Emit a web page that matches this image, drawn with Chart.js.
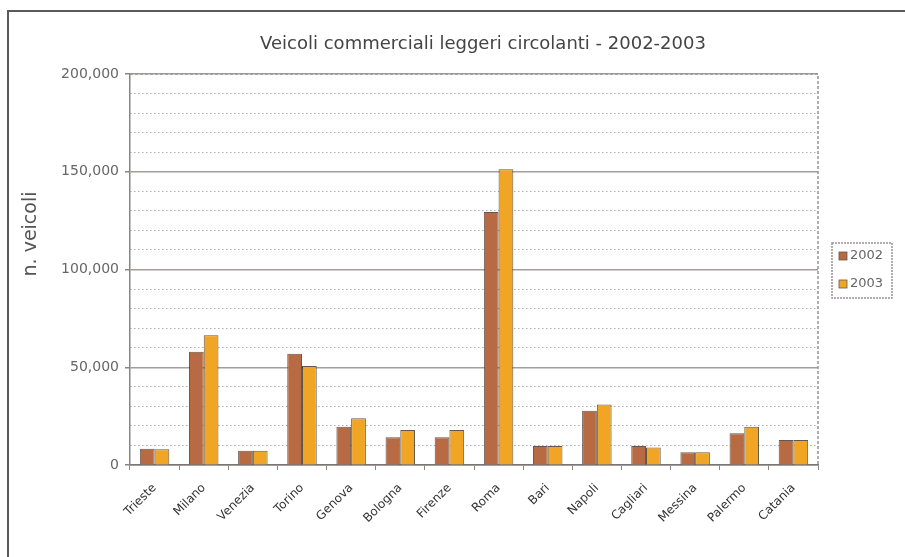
<!DOCTYPE html>
<html>
<head>
<meta charset="utf-8">
<script src="https://cdn.jsdelivr.net/npm/chart.js@4"></script>
<style>
  html, body { margin: 0; padding: 0; background: #fff; }
  #wrap { position: relative; width: 905px; height: 557px; overflow: hidden; }
  #frame { position: absolute; left: 7px; top: 10px; width: 1000px; height: 700px;
           border-top: 2px solid #5a5a5a; border-left: 2px solid #5a5a5a; }
  #chart { position: absolute; left: 0; top: 0; }
</style>
</head>
<body>
<div id="wrap">
  <div id="frame"></div>
  <canvas id="chart" width="905" height="557"></canvas>
</div>
<script>
// città e veicoli commerciali leggeri circolanti
const cities = ["Trieste", "Milano", "Venezia", "Torino", "Genova", "Bologna", "Firenze",
  "Roma", "Bari", "Napoli", "Cagliari", "Messina", "Palermo", "Catania"];
const years = ["2002", "2003"];
const v2002 = [8300, 57900, 7300, 56900, 19600, 14200, 14200, 129400, 9700, 27800, 9700, 6500, 16200, 12800];
const v2003 = [8000, 66400, 7300, 50600, 23900, 17900, 17900, 151300, 9700, 31000, 9000, 6500, 19600, 12800];
const yTicks = [0, 50000, 100000, 150000, 200000];
const colors = ["#b86a42", "#f0a524"];

const FONT = "'DejaVu Sans', Verdana, sans-serif";
const TITLE = "Veicoli commerciali leggeri circolanti - 2002-2003";

// bordo tratteggiato in alto e a destra dell'area del grafico
const plotFrame = {
  id: "plotFrame",
  afterDraw(chart) {
    const { ctx, chartArea: a } = chart;
    ctx.save();
    ctx.strokeStyle = "#9a9494";
    ctx.lineWidth = 1.5;
    ctx.setLineDash([3, 2]);
    ctx.beginPath();
    ctx.moveTo(a.left, a.top);
    ctx.lineTo(a.right, a.top);
    ctx.lineTo(a.right, a.bottom);
    ctx.stroke();
    ctx.restore();
  }
};

// titolo del grafico e titolo dell'asse y
const titles = {
  id: "titles",
  afterDraw(chart) {
    const { ctx } = chart;
    ctx.save();
    ctx.font = "18px " + FONT;
    ctx.fillStyle = "#444";
    ctx.textAlign = "center";
    ctx.textBaseline = "middle";
    ctx.fillText(TITLE, 483, 44);

    ctx.translate(31, 234);
    ctx.rotate(-Math.PI / 2);
    ctx.font = "19px " + FONT;
    ctx.fillStyle = "#555";
    ctx.fillText("n. veicoli", 0, 0);
    ctx.restore();
  }
};

// legenda in un riquadro a destra
const boxLegend = {
  id: "boxLegend",
  afterDraw(chart) {
    const { ctx } = chart;
    const x = 832, y = 243, w = 60, h = 55;
    ctx.save();
    ctx.strokeStyle = "#9a9494";
    ctx.lineWidth = 1.5;
    ctx.setLineDash([2, 1]);
    ctx.strokeRect(x, y, w, h);
    ctx.setLineDash([]);
    ctx.font = "13px " + FONT;
    ctx.textBaseline = "middle";
    chart.data.datasets.forEach((ds, i) => {
      const cy = y + 13 + i * 28;
      ctx.fillStyle = ds.backgroundColor;
      ctx.fillRect(x + 7, cy - 4, 8, 8);
      ctx.strokeStyle = "#6a5a4a";
      ctx.lineWidth = 0.8;
      ctx.strokeRect(x + 7, cy - 4, 8, 8);
      ctx.fillStyle = "#666";
      ctx.fillText(ds.label, x + 18, cy);
    });
    ctx.restore();
  }
};

new Chart(document.getElementById("chart"), {
  type: "bar",
  data: {
    labels: cities,
    datasets: [
      { label: years[0], data: v2002, backgroundColor: colors[0] },
      { label: years[1], data: v2003, backgroundColor: colors[1] }
    ]
  },
  options: {
    responsive: false,
    animation: false,
    layout: { padding: { left: 0, right: 87, top: 74, bottom: 0 } },
    datasets: {
      bar: {
        categoryPercentage: 0.6,
        barPercentage: 1.0,
        borderWidth: 1,
        borderColor: "rgba(60,45,35,0.8)"
      }
    },
    plugins: {
      legend: { display: false },
      tooltip: { enabled: false },
      title: { display: false }
    },
    scales: {
      x: {
        offset: true,
        grid: {
          offset: true,
          drawOnChartArea: false,
          drawTicks: true,
          tickLength: 5,
          tickColor: "#8a8484"
        },
        border: { color: "#7a7474", width: 1.5 },
        ticks: {
          autoSkip: false,
          maxRotation: 45,
          minRotation: 45,
          padding: 11,
          color: "#333",
          font: { family: FONT, size: 12 }
        },
        afterFit(scale) { scale.height = 92; }
      },
      yMinor: {
        position: "left",
        min: yTicks[0],
        max: yTicks[yTicks.length - 1],
        ticks: { display: false, stepSize: 10000 },
        grid: {
          drawTicks: false,
          color: (c) => (c.tick && c.tick.value % 50000 === 0) ? "rgba(0,0,0,0)" : "#aaaabb",
          lineWidth: 1
        },
        border: { display: false, dash: [1.5, 2.5] },
        afterFit(scale) { scale.width = 0; }
      },
      y: {
        position: "left",
        min: yTicks[0],
        max: yTicks[yTicks.length - 1],
        afterBuildTicks(scale) { scale.ticks = yTicks.map((v) => ({ value: v })); },
        ticks: {
          color: "#666",
          padding: 6,
          font: { family: FONT, size: 14 },
          callback: (v) => v.toLocaleString("en-US")
        },
        grid: {
          color: "#a39d9d",
          lineWidth: 1.5,
          tickLength: 5,
          tickColor: "#8a8484"
        },
        border: { color: "#8a8484", width: 1.5 },
        afterFit(scale) { scale.width = 130; }
      }
    }
  },
  plugins: [plotFrame, titles, boxLegend]
});
</script>
</body>
</html>
